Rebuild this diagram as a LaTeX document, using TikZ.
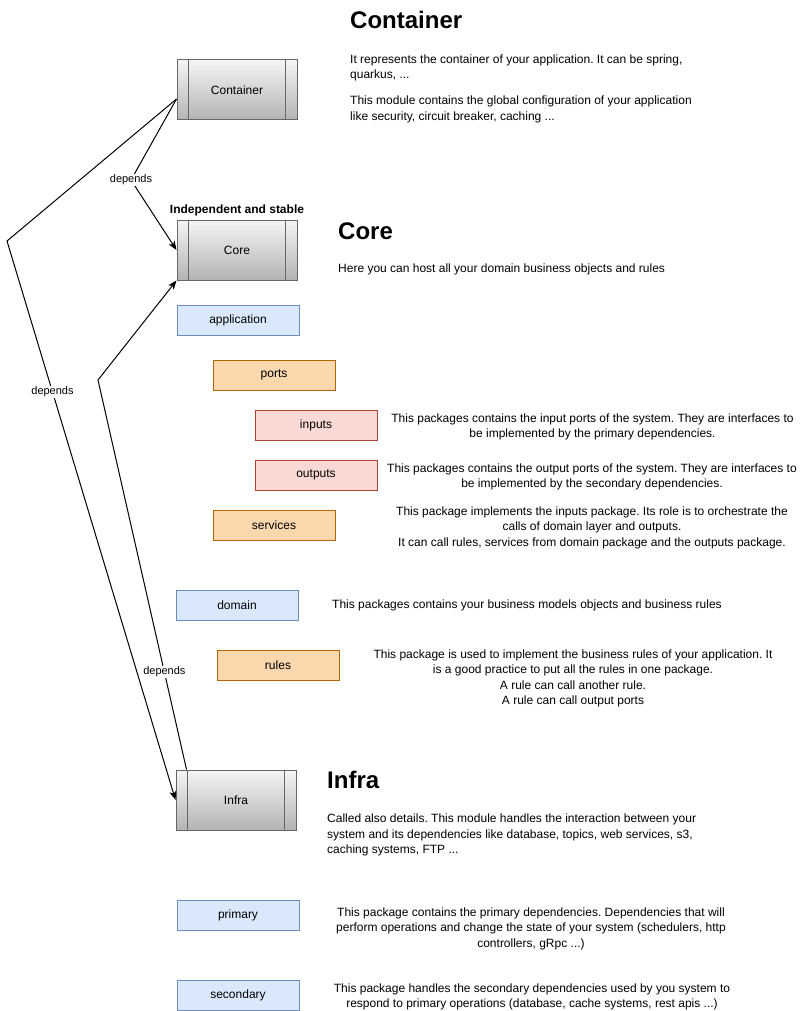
\documentclass[tikz,border=0pt]{standalone}
\usepackage{fontspec}
\setmainfont{Liberation Sans}
\usetikzlibrary{arrows.meta}
\frenchspacing
\definecolor{c1}{HTML}{F5F5F5}
\definecolor{c2}{HTML}{B3B3B3}
\definecolor{c3}{HTML}{666666}
\definecolor{c4}{HTML}{DAE8FC}
\definecolor{c5}{HTML}{6C8EBF}
\definecolor{c6}{HTML}{FAD7AC}
\definecolor{c7}{HTML}{B46504}
\definecolor{c8}{HTML}{FAD9D5}
\definecolor{c9}{HTML}{AE4132}
\tikzstyle{layers}=[
    module box/.style={rectangle, draw=c3, line width=1pt, top color=c1, bottom color=c2,
        minimum width=120pt, minimum height=60pt, inner sep=0, font={\fontsize{12}{14}\selectfont}},
    module side/.style={draw=c3, line width=1pt},
    pkg box/.style={rectangle, line width=1pt, minimum width=122pt, minimum height=30pt,
        inner sep=0, font={\fontsize{12}{14}\selectfont}},
    blue pkg/.style={pkg box, fill=c4, draw=c5},
    orange pkg/.style={pkg box, fill=c6, draw=c7},
    red pkg/.style={pkg box, fill=c8, draw=c9},
    head text/.style={font={\fontsize{24}{28}\selectfont\bfseries}, anchor=base west, inner sep=0},
    desc text/.style={font={\fontsize{12}{15.5}\selectfont}, inner sep=0},
    link/.style={black, line width=1pt, -{Stealth[length=9pt,width=7pt,inset=2.5pt]}},
    link label/.style={fill=white, font={\fontsize{11}{13}\selectfont}, inner sep=1pt},
]
\newcommand{\modulebox}[3]{
    \node[module box] (#1) at (#2) {#3};
    \draw[module side] ([xshift=12pt]#1.north west) -- ([xshift=12pt]#1.south west)
        ([xshift=-12pt]#1.north east) -- ([xshift=-12pt]#1.south east);
}

\begin{document}
\begin{tikzpicture}[layers, x=1pt, y=-1pt]
    \path[fill=white] (0,0) rectangle (800,1011);
    \useasboundingbox (0,0) rectangle (800,1011);

    \modulebox{cont}{237,90}{Container}
    \modulebox{core}{237,250}{Core}
    \modulebox{infra}{236,800}{Infra}
    \node[font={\fontsize{12}{14}\selectfont\bfseries}, anchor=base] (core tag) at (237,213.5) {Independent and stable};

    \foreach \n/\x/\y/\s in {application/238/320/blue pkg, ports/274/375/orange pkg,
        inputs/316/425/red pkg, outputs/316/475/red pkg, services/274/525/orange pkg,
        domain/237/605/blue pkg, rules/278/665/orange pkg,
        primary/238/915/blue pkg, secondary/238/995/blue pkg}
    {
        \node[\s] (\n) at (\x,\y) {\n};
    }

    \node[head text] (cont head) at (350,28.5) {Container};
    \node[head text] (core head) at (338,239.5) {Core};
    \node[head text] (infra head) at (327,788.5) {Infra};

    \node[desc text, anchor=north west, align=left] (cont desc) at (350,54.5)
        {It represents the container of your application. It can be spring,\\quarkus, ...\\[10.5pt]This module contains the global configuration of your application\\like security, circuit breaker, caching ...};
    \node[desc text, anchor=north west] (core desc) at (338,263.5)
        {Here you can host all your domain business objects and rules};
    \node[desc text, anchor=north, align=center] (inputs desc) at (592.5,413.5)
        {This packages contains the input ports of the system. They are interfaces to\\be implemented by the primary dependencies.};
    \node[desc text, anchor=north, align=center] (outputs desc) at (592,463.5)
        {This packages contains the output ports of the system. They are interfaces to\\be implemented by the secondary dependencies.};
    \node[desc text, anchor=north, align=center] (services desc) at (592,506.5)
        {This package implements the inputs package. Its role is to orchestrate the\\calls of domain layer and outputs.\\It can call rules, services from domain package and the outputs package.};
    \node[desc text, anchor=north west] (domain desc) at (332,599.5)
        {This packages contains your business models objects and business rules};
    \node[desc text, anchor=north, align=center] (rules desc) at (573,649.5)
        {This package is used to implement the business rules of your application. It\\is a good practice to put all the rules in one package.\\A rule can call another rule.\\A rule can call output ports};
    \node[desc text, anchor=north west, align=left] (infra desc) at (327,814)
        {Called also details. This module handles the interaction between your\\system and its dependencies like database, topics, web services, s3,\\caching systems, FTP ...};
    \node[desc text, anchor=north, align=center] (primary desc) at (531,907.5)
        {This package contains the primary dependencies. Dependencies that will\\perform operations and change the state of your system (schedulers, http\\controllers, gRpc ...)};
    \node[desc text, anchor=north, align=center] (secondary desc) at (532,983.5)
        {This package handles the secondary dependencies used by you system to\\respond to primary operations (database, cache systems, rest apis ...)};

    \coordinate (bend a) at (131,180);
    \coordinate (bend b) at (7,241);
    \coordinate (bend c) at (98,380);
    \draw[link] ([yshift=-9pt]cont.west) -- (bend a) -- (core.west);
    \node[link label] (dep a) at (bend a) {depends};
    \draw[link] ([yshift=-9pt]cont.west) -- (bend b) -- node[link label, pos=0.27] (dep b) {depends} (infra.west);
    \draw[link] ([xshift=11pt]infra.north west) -- node[link label, pos=0.25] (dep c) {depends} (bend c) -- (core.south west);
\end{tikzpicture}
\end{document}
